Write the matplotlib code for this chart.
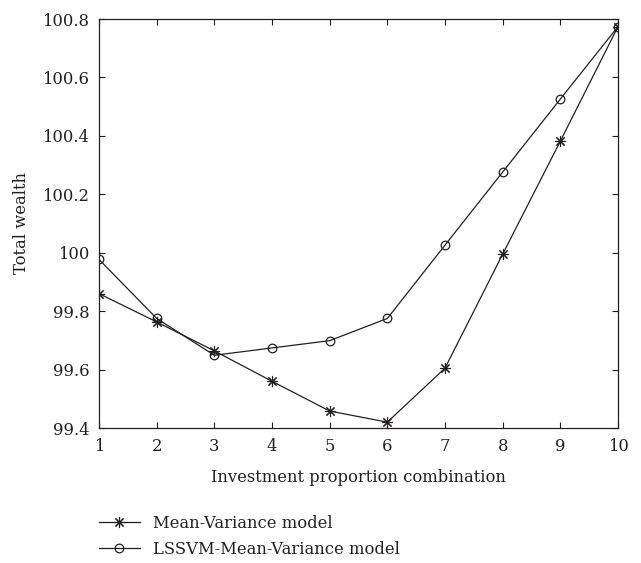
import matplotlib
matplotlib.use("Agg")
import matplotlib.pyplot as plt

# Portfolio wealth for each investment proportion combination
combinations = [1, 2, 3, 4, 5, 6, 7, 8, 9, 10]
mean_variance = [99.860, 99.763, 99.664, 99.560, 99.458, 99.420, 99.605, 99.995, 100.382, 100.774]
lssvm_mean_variance = [99.977, 99.775, 99.649, 99.674, 99.699, 99.775, 100.026, 100.276, 100.526, 100.774]
y_ticks = [99.4, 99.6, 99.8, 100, 100.2, 100.4, 100.6, 100.8]
y_tick_labels = ["99.4", "99.6", "99.8", "100", "100.2", "100.4", "100.6", "100.8"]

plt.rcParams["font.family"] = ["DejaVu Serif"]
FS = 11.8

ink = "#231f20"

fig = plt.figure(figsize=(6.41, 5.63), dpi=100)
ax = fig.add_axes([99 / 641, 1 - 428 / 563, (618 - 99) / 641, (428 - 19) / 563])

ax.plot(combinations, mean_variance, color=ink, lw=0.9, marker=(8, 2, 0),
        markersize=8, markeredgewidth=0.8, label="Mean-Variance model")
ax.plot(combinations, lssvm_mean_variance, color=ink, lw=0.9, marker="o",
        markersize=6.2, markerfacecolor="none", markeredgewidth=0.9,
        label="LSSVM-Mean-Variance model")

ax.set_xlim(1, 10)
ax.set_ylim(99.4, 100.8)
ax.set_xticks(combinations)
ax.set_yticks(y_ticks)
ax.set_yticklabels(y_tick_labels)

for side in ax.spines.values():
    side.set_color(ink)
    side.set_linewidth(0.9)
ax.tick_params(direction="in", length=4, width=0.8, colors=ink,
               top=True, right=True, pad=7, labelsize=FS)
ax.tick_params(axis="x", pad=7)

ax.set_xlabel("Investment proportion combination", color=ink, fontsize=FS, labelpad=10)
ax.set_ylabel("Total wealth", color=ink, fontsize=FS, labelpad=9)

fig.legend(loc="upper left", bbox_to_anchor=(99 / 641, 1 - 515 / 563),
           frameon=False, fontsize=FS, handlelength=2.5, handletextpad=0.8,
           borderpad=0, borderaxespad=0, labelspacing=0.55, labelcolor=ink)

fig.savefig("out.png", dpi=100)
